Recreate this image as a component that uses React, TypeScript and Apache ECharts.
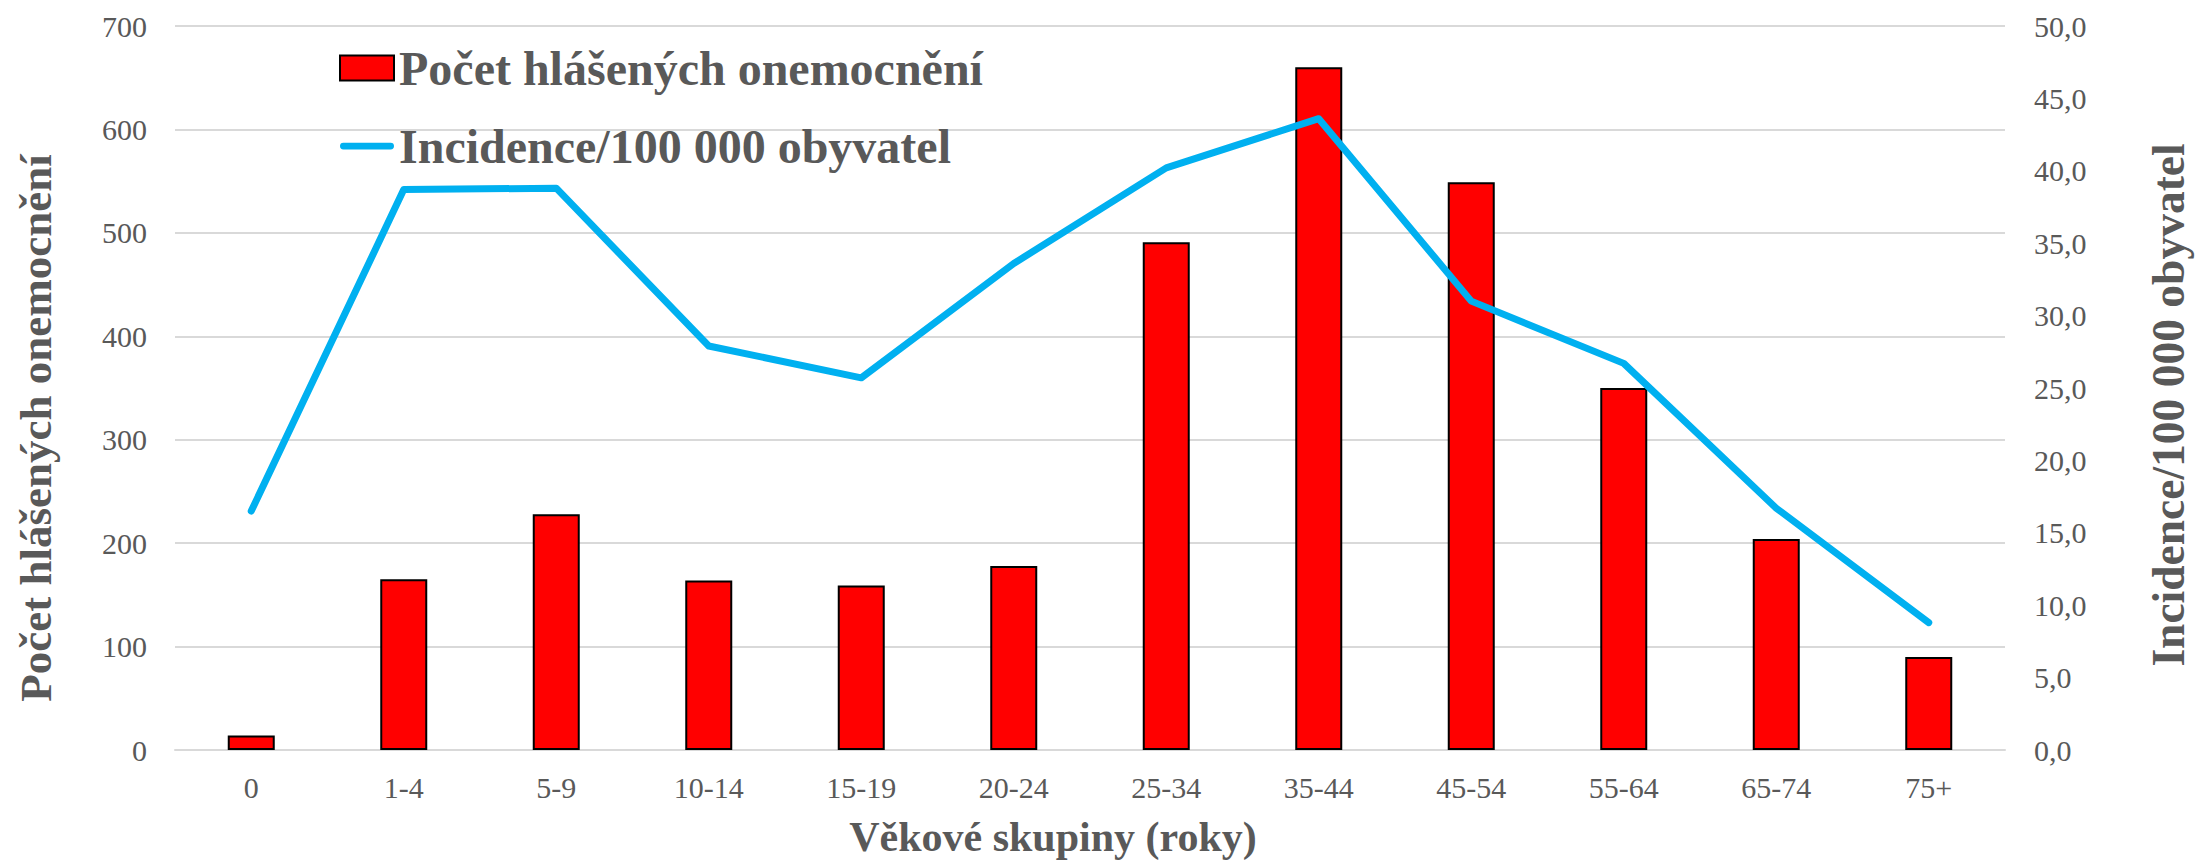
import React, { useEffect, useRef } from "react";
import * as echarts from "echarts";

const categories = ["0", "1-4", "5-9", "10-14", "15-19", "20-24", "25-34", "35-44", "45-54", "55-64", "65-74", "75+"];
const reportedCases = [14, 165, 228, 164, 159, 178, 491, 660, 549, 350, 204, 90];
const incidence = [16.5, 38.7, 38.8, 27.9, 25.7, 33.6, 40.2, 43.6, 31.0, 26.7, 16.7, 8.8];
const leftTicks = { min: 0, max: 700, interval: 100 };
const rightTicks = { min: 0, max: 50, interval: 5 };

const barName = "Počet hlášených onemocnění";
const lineName = "Incidence/100 000 obyvatel";
const xTitle = "Věkové skupiny (roky)";

const FONT = "'Liberation Serif', 'Times New Roman', serif";
const GREY = "#595959";
const LINE_ICON = "path://M3.5,0 L52.5,0 A3.5,3.5 0 0 1 52.5,7 L3.5,7 A3.5,3.5 0 0 1 3.5,0 Z";

export default function App() {
  const ref = useRef<HTMLDivElement>(null);
  useEffect(() => {
    if (!ref.current) return;
    const chart = echarts.init(ref.current, null, { renderer: "svg" });
    chart.setOption({
      animation: false,
      backgroundColor: "#ffffff",
      textStyle: { fontFamily: FONT },
      grid: { left: 175, top: 26, width: 1833, height: 730, containLabel: false },
      legend: {
        orient: "vertical",
        left: 334,
        top: 39,
        itemGap: 30,
        itemWidth: 54,
        itemHeight: 25,
        textStyle: { fontSize: 48, fontWeight: "bold", color: GREY, fontFamily: FONT, lineHeight: 48 },
        data: [
          { name: barName, icon: "rect" },
          { name: lineName, icon: LINE_ICON, itemStyle: { color: "#00b0f0", borderWidth: 0 } },
        ],
      },
      xAxis: {
        type: "category",
        data: categories,
        axisTick: { show: false },
        axisLine: { show: true, lineStyle: { color: "#d9d9d9", width: 2 } },
        axisLabel: { color: GREY, fontSize: 30, fontFamily: FONT, margin: 22 },
        name: xTitle,
        nameLocation: "middle",
        nameGap: 66,
        nameTextStyle: { fontSize: 42, fontWeight: "bold", color: GREY, fontFamily: FONT, padding: [0, 74, 0, 0] },
      },
      yAxis: [
        {
          type: "value",
          min: leftTicks.min,
          max: leftTicks.max,
          interval: leftTicks.interval,
          axisLine: { show: false },
          axisTick: { show: false },
          splitLine: { show: true, lineStyle: { color: "#d9d9d9", width: 2 } },
          axisLabel: { color: GREY, fontSize: 30, fontFamily: FONT, margin: 28 },
          name: barName,
          nameLocation: "middle",
          nameRotate: 90,
          nameGap: 117,
          nameTextStyle: { fontSize: 45, fontWeight: "bold", color: GREY, fontFamily: FONT, padding: [0, 80, 0, 0] },
        },
        {
          type: "value",
          position: "right",
          min: rightTicks.min,
          max: rightTicks.max,
          interval: rightTicks.interval,
          axisLine: { show: false },
          axisTick: { show: false },
          splitLine: { show: false },
          axisLabel: {
            color: GREY,
            fontSize: 30,
            fontFamily: FONT,
            margin: 29,
            formatter: (v: number) => v.toFixed(1).replace(".", ","),
          },
          name: lineName,
          nameLocation: "middle",
          nameRotate: 90,
          nameGap: 140,
          nameTextStyle: { fontSize: 45.5, fontWeight: "bold", color: GREY, fontFamily: FONT, padding: [0, 34, 0, 0] },
        },
      ],
      series: [
        {
          name: barName,
          type: "bar",
          data: reportedCases,
          yAxisIndex: 0,
          barWidth: 47,
          itemStyle: { color: "#ff0000", borderColor: "#000000", borderWidth: 2 },
        },
        {
          name: lineName,
          type: "line",
          data: incidence,
          yAxisIndex: 1,
          symbol: "none",
          lineStyle: { color: "#00b0f0", width: 7, cap: "round", join: "round" },
          itemStyle: { color: "#00b0f0" },
        },
      ],
    });
    return () => chart.dispose();
  }, []);
  return <div ref={ref} style={{ position: "fixed", left: 0, top: 0, width: 2199, height: 863 }} />;
}
